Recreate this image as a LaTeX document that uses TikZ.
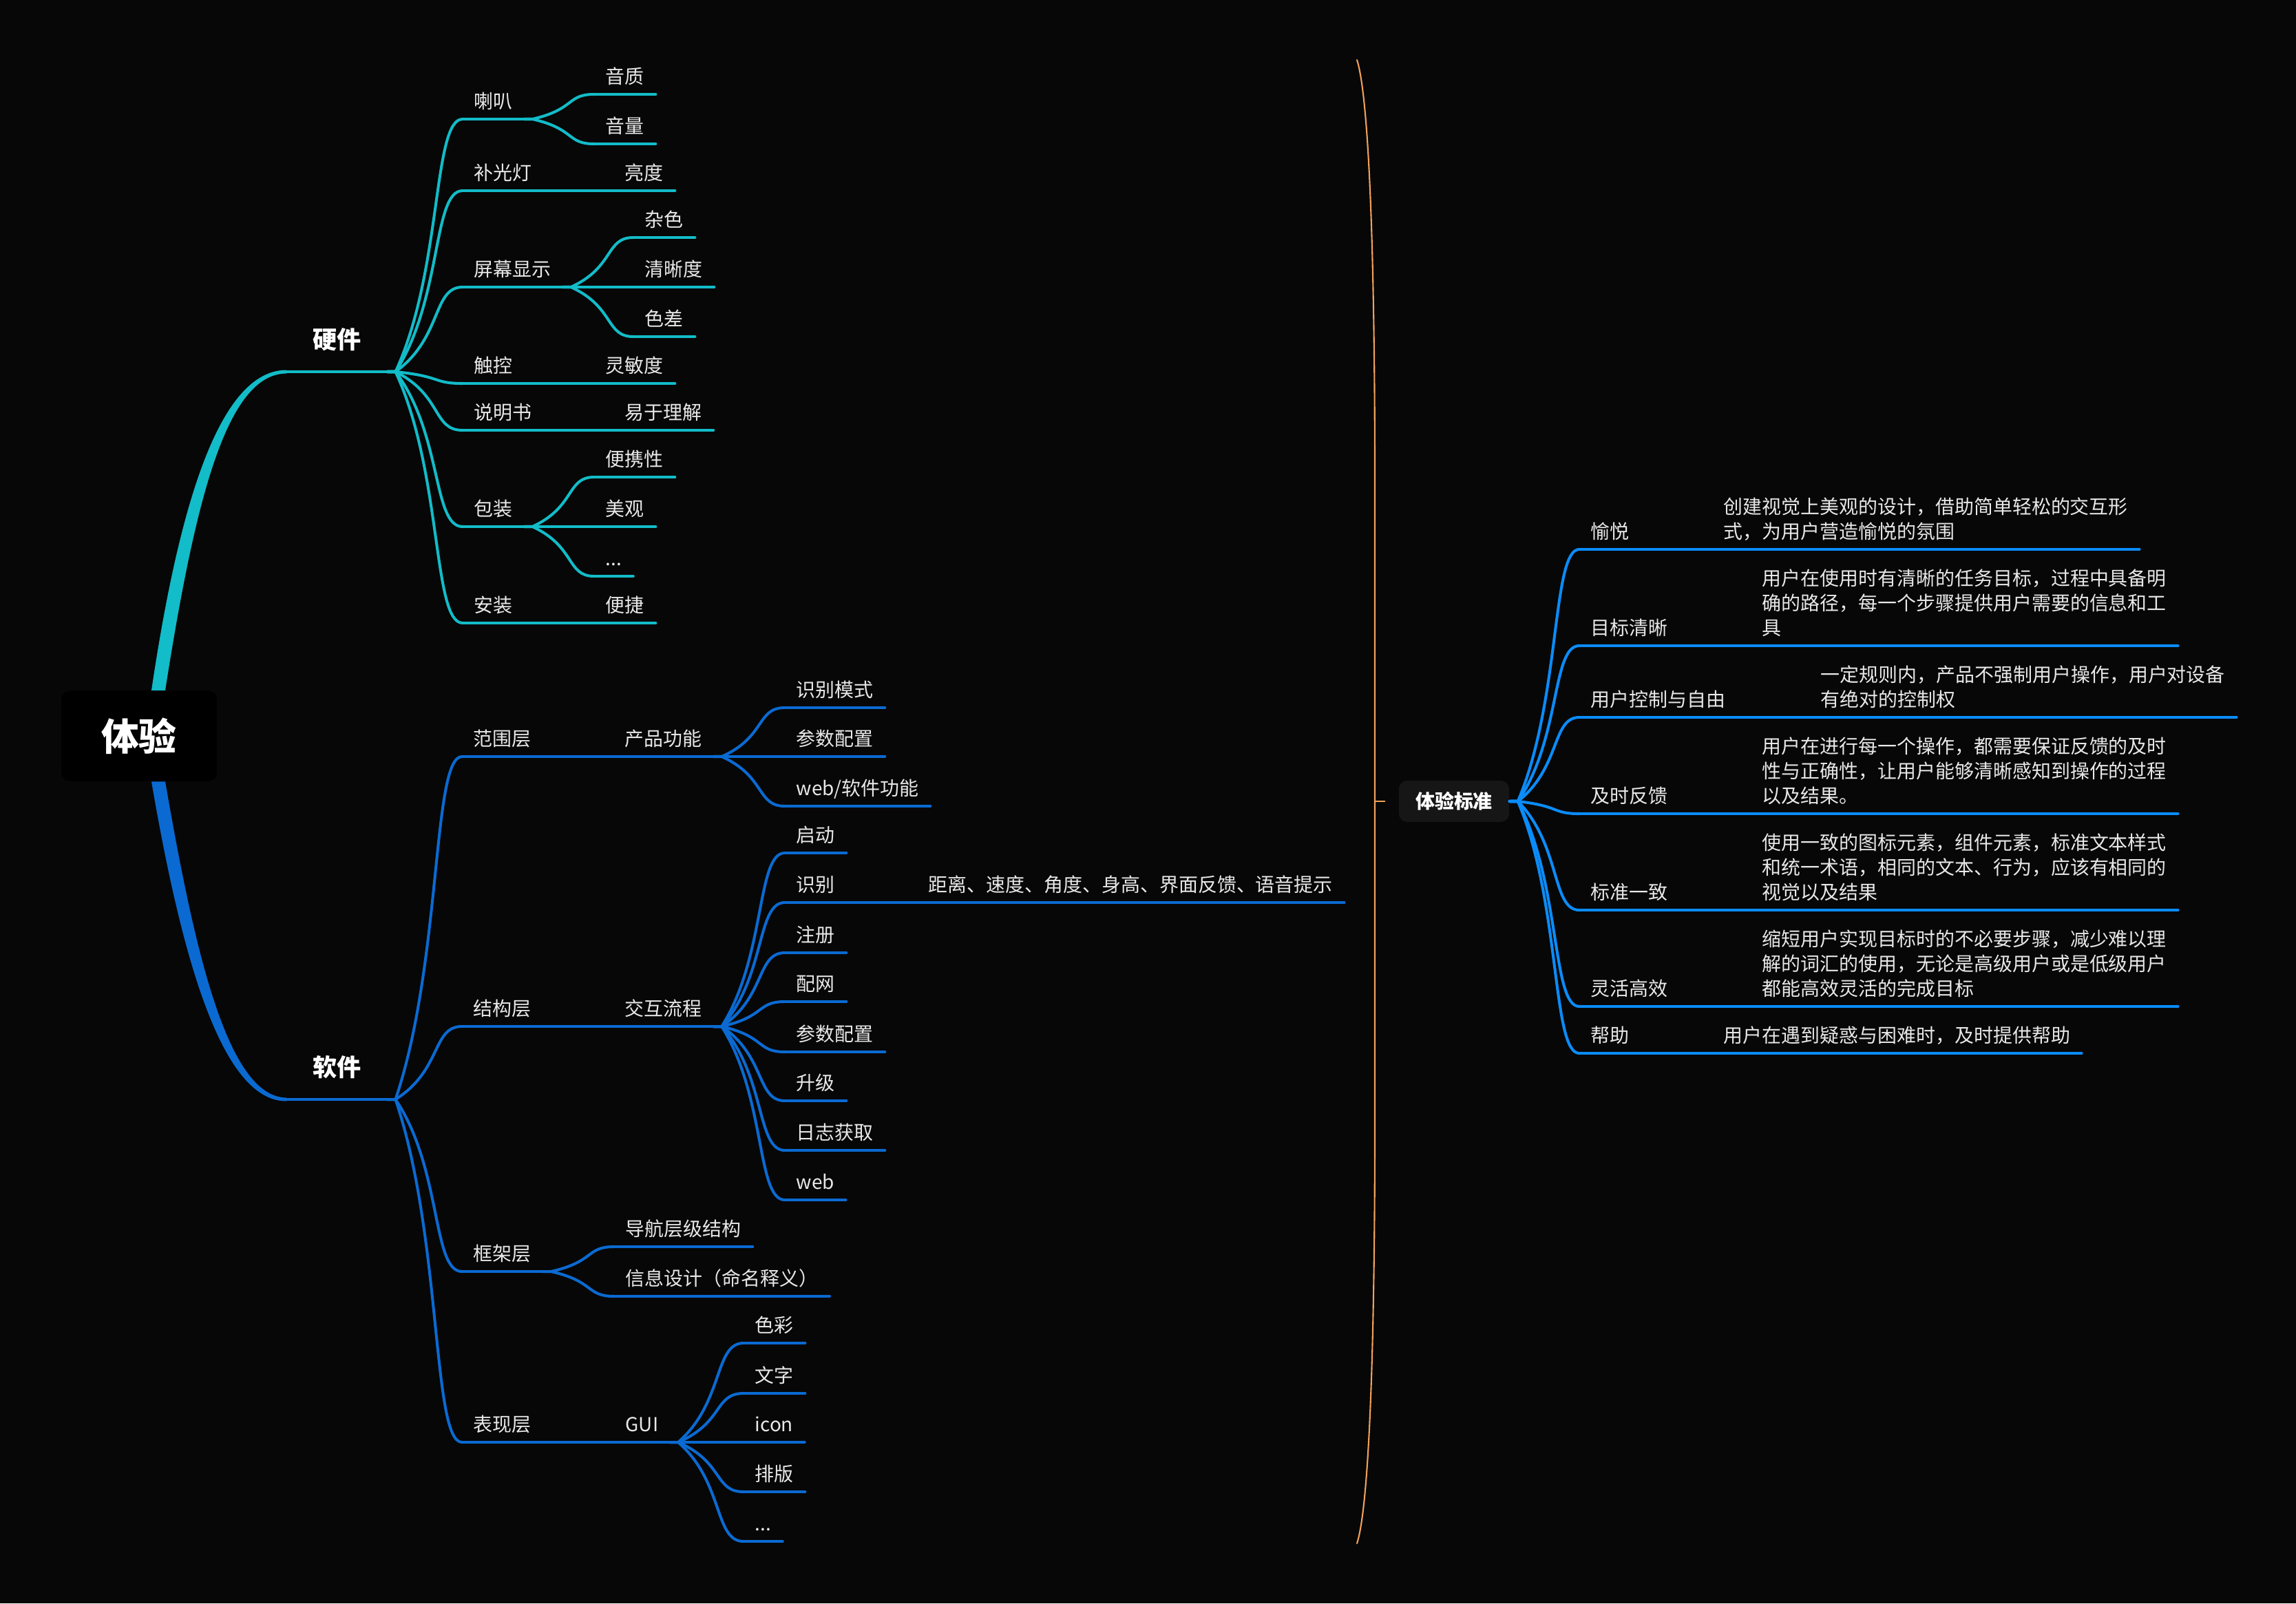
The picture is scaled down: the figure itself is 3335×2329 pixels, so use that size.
\documentclass[tikz,border=0pt]{standalone}
\usepackage{fontspec}
\setmainfont{Noto Sans CJK SC}
\usetikzlibrary{calc}
\definecolor{bg}{HTML}{070707}
\definecolor{hwc}{HTML}{12BCC8}
\definecolor{swc}{HTML}{0A6AD2}
\definecolor{stc}{HTML}{0A8CFA}
\definecolor{brc}{HTML}{F0A05A}
\definecolor{txt}{HTML}{E8E8E8}
\definecolor{boxc}{HTML}{161616}
\begin{document}
\begin{tikzpicture}[x=0.01cm, y=-0.01cm, line cap=round, line join=round,
  font=\fontsize{7.95pt}{10.2pt}\selectfont, text=txt,
  topic/.style={anchor=south west, inner xsep=0.16cm, inner ysep=0.15cm, text depth=0pt, align=left,
    append after command={(\tikzlastnode.south west) edge[draw=#1, line width=1.15pt] (\tikzlastnode.south east)}},
  main/.style={topic=#1, inner ysep=0.33cm, minimum width=1.45cm, text=white,
    font=\fontsize{10pt}{12pt}\selectfont\bfseries},
  twig/.style={line width=1.15pt, to path={let \p1=(\tikztostart), \p2=(\tikztotarget) in
    -- ({\x1+\gap},\y1) .. controls ({\x1+\gap+0.7*(\x2-\x1-\gap)},{\y1+0.4*(\y2-\y1)})
    and ({\x1+\gap+0.55*(\x2-\x1-\gap)},\y2) .. (\p2)}}]
  \def\gap{3.4pt}
  \fill[bg] (0,0) rectangle (3335,2329);
  \useasboundingbox (0,0) rectangle (3335,2329);

  % root
  \node[fill=black, rounded corners=0.12cm, minimum width=2.26cm, minimum height=1.31cm, text=white,
    font=\fontsize{15.6pt}{18pt}\selectfont\bfseries] (root) at (202,1069) {体验};
  \node[main=hwc] (hw) at (416,540) {硬件};
  \node[main=swc] (sw) at (416,1597) {软件};
  \fill[hwc] ($(root.north)+(18,0)$) .. controls (262,720) and (322,538) .. ($(hw.south west)+(0,-2.5)$)
    -- ($(hw.south west)+(0,2.5)$) .. controls (330,543) and (284,722) .. ($(root.north)+(38,0)$) -- cycle;
  \fill[swc] ($(root.south)+(18,0)$) .. controls (262,1380) and (320,1600) .. ($(sw.south west)+(0,2.5)$)
    -- ($(sw.south west)+(0,-2.5)$) .. controls (330,1594) and (282,1378) .. ($(root.south)+(38,0)$) -- cycle;

  % hardware
  \node[topic=hwc] (lb) at (672,173) {喇叭};
  \node[topic=hwc] (yz) at (863,137) {音质};
  \node[topic=hwc] (yl) at (863,209) {音量};
  \node[topic=hwc] (bgd) at (672,277) {补光灯};
  \node[topic=hwc] (ld) at (891,277) {亮度};
  \node[topic=hwc] (pm) at (672,417) {屏幕显示};
  \node[topic=hwc] (zs) at (920,345) {杂色};
  \node[topic=hwc] (qxd) at (920,417) {清晰度};
  \node[topic=hwc] (sch) at (920,489) {色差};
  \node[topic=hwc] (ck) at (672,557) {触控};
  \node[topic=hwc] (lmd) at (863,557) {灵敏度};
  \node[topic=hwc] (smr) at (672,625) {说明书};
  \node[topic=hwc] (yyl) at (891,625) {易于理解};
  \node[topic=hwc] (bz) at (672,765) {包装};
  \node[topic=hwc] (bxx) at (863,693) {便携性};
  \node[topic=hwc] (mg) at (863,765) {美观};
  \node[topic=hwc] (bdd) at (863,837) {...};
  \node[topic=hwc] (az) at (672,905) {安装};
  \node[topic=hwc] (bj) at (863,905) {便捷};
  \foreach \c in {lb,bgd,pm,ck,smr,bz,az}
    \draw[hwc,twig] (hw.south east) to (\c.south west);
  \foreach \a/\b in {lb/yz,lb/yl,bgd/ld,pm/zs,pm/qxd,pm/sch,ck/lmd,smr/yyl,bz/bxx,bz/mg,bz/bdd,az/bj}
    \draw[hwc,twig] (\a.south east) to (\b.south west);

  % software
  \node[topic=swc] (fwc) at (671,1099) {范围层};
  \node[topic=swc] (cpgn) at (891,1099) {产品功能};
  \node[topic=swc] (sbms) at (1140,1028) {识别模式};
  \node[topic=swc] (cspz) at (1140,1099) {参数配置};
  \node[topic=swc] (webgn) at (1140,1171) {web/软件功能};
  \node[topic=swc] (jgc) at (671,1491) {结构层};
  \node[topic=swc] (jhlc) at (891,1491) {交互流程};
  \node[topic=swc] (qd) at (1140,1239) {启动};
  \node[topic=swc] (sb) at (1140,1311) {识别};
  \node[topic=swc] (jl) at (1332,1311) {距离、速度、角度、身高、界面反馈、语音提示};
  \node[topic=swc] (zc) at (1140,1384) {注册};
  \node[topic=swc] (pw) at (1140,1455) {配网};
  \node[topic=swc] (cspzb) at (1140,1528) {参数配置};
  \node[topic=swc] (sj) at (1140,1599) {升级};
  \node[topic=swc] (rzhq) at (1140,1671) {日志获取};
  \node[topic=swc] (webl) at (1140,1743) {web};
  \node[topic=swc] (kjc) at (671,1847) {框架层};
  \node[topic=swc] (dh) at (892,1811) {导航层级结构};
  \node[topic=swc] (xxsj) at (892,1883) {信息设计（命名释义）};
  \node[topic=swc] (bxc) at (671,2095) {表现层};
  \node[topic=swc] (gui) at (892,2095) {GUI};
  \node[topic=swc] (scai) at (1080,1951) {色彩};
  \node[topic=swc] (wz) at (1080,2024) {文字};
  \node[topic=swc] (icon) at (1080,2095) {icon};
  \node[topic=swc] (pb) at (1080,2167) {排版};
  \node[topic=swc] (ddd) at (1080,2239) {...};
  \foreach \c in {fwc,jgc,kjc,bxc}
    \draw[swc,twig] (sw.south east) to (\c.south west);
  \foreach \a/\b in {fwc/cpgn,cpgn/sbms,cpgn/cspz,cpgn/webgn,jgc/jhlc,jhlc/qd,jhlc/sb,jhlc/zc,jhlc/pw,
      jhlc/cspzb,jhlc/sj,jhlc/rzhq,jhlc/webl,sb/jl,kjc/dh,kjc/xxsj,bxc/gui,gui/scai,gui/wz,gui/icon,gui/pb,gui/ddd}
    \draw[swc,twig] (\a.south east) to (\b.south west);

  % standards
  \draw[brc, line width=0.6pt] (1971,87) .. controls (1985,130) and (1997,300) .. (1997,700)
    -- (1997,1630) .. controls (1997,2030) and (1985,2200) .. (1971,2242);
  \coordinate (brm) at (1997,1164);
  \node[fill=boxc, rounded corners=0.12cm, minimum width=1.6cm, minimum height=0.6cm, text=white,
    font=\fontsize{7.95pt}{10pt}\selectfont\bfseries] (std) at (2112,1164) {体验标准};
  \draw[brc, line width=0.6pt] (brm) -- ([xshift=-0.2cm]std.west);
  \node[topic=stc] (yue) at (2294,798) {愉悦};
  \node[topic=stc] (yued) at (2487,798) {创建视觉上美观的设计，借助简单轻松的交互形\\式，为用户营造愉悦的氛围};
  \node[topic=stc] (mbqx) at (2294,938) {目标清晰};
  \node[topic=stc] (mbqxd) at (2543,938) {用户在使用时有清晰的任务目标，过程中具备明\\确的路径，每一个步骤提供用户需要的信息和工\\具};
  \node[topic=stc] (yhkz) at (2294,1042) {用户控制与自由};
  \node[topic=stc] (yhkzd) at (2628,1042) {一定规则内，产品不强制用户操作，用户对设备\\有绝对的控制权};
  \node[topic=stc] (jsfk) at (2294,1182) {及时反馈};
  \node[topic=stc] (jsfkd) at (2543,1182) {用户在进行每一个操作，都需要保证反馈的及时\\性与正确性，让用户能够清晰感知到操作的过程\\以及结果。};
  \node[topic=stc] (bzyz) at (2294,1322) {标准一致};
  \node[topic=stc] (bzyzd) at (2543,1322) {使用一致的图标元素，组件元素，标准文本样式\\和统一术语，相同的文本、行为，应该有相同的\\视觉以及结果};
  \node[topic=stc] (lhgx) at (2294,1462) {灵活高效};
  \node[topic=stc] (lhgxd) at (2543,1462) {缩短用户实现目标时的不必要步骤，减少难以理\\解的词汇的使用，无论是高级用户或是低级用户\\都能高效灵活的完成目标};
  \node[topic=stc] (bzh) at (2294,1530) {帮助};
  \node[topic=stc] (bzhd) at (2487,1530) {用户在遇到疑惑与困难时，及时提供帮助};
  \foreach \c in {yue,mbqx,yhkz,jsfk,bzyz,lhgx,bzh}{
    \draw[stc,twig] (std.east) to (\c.south west);
    \draw[stc,twig] (\c.south east) to (\c d.south west);
  }
\end{tikzpicture}
\end{document}
